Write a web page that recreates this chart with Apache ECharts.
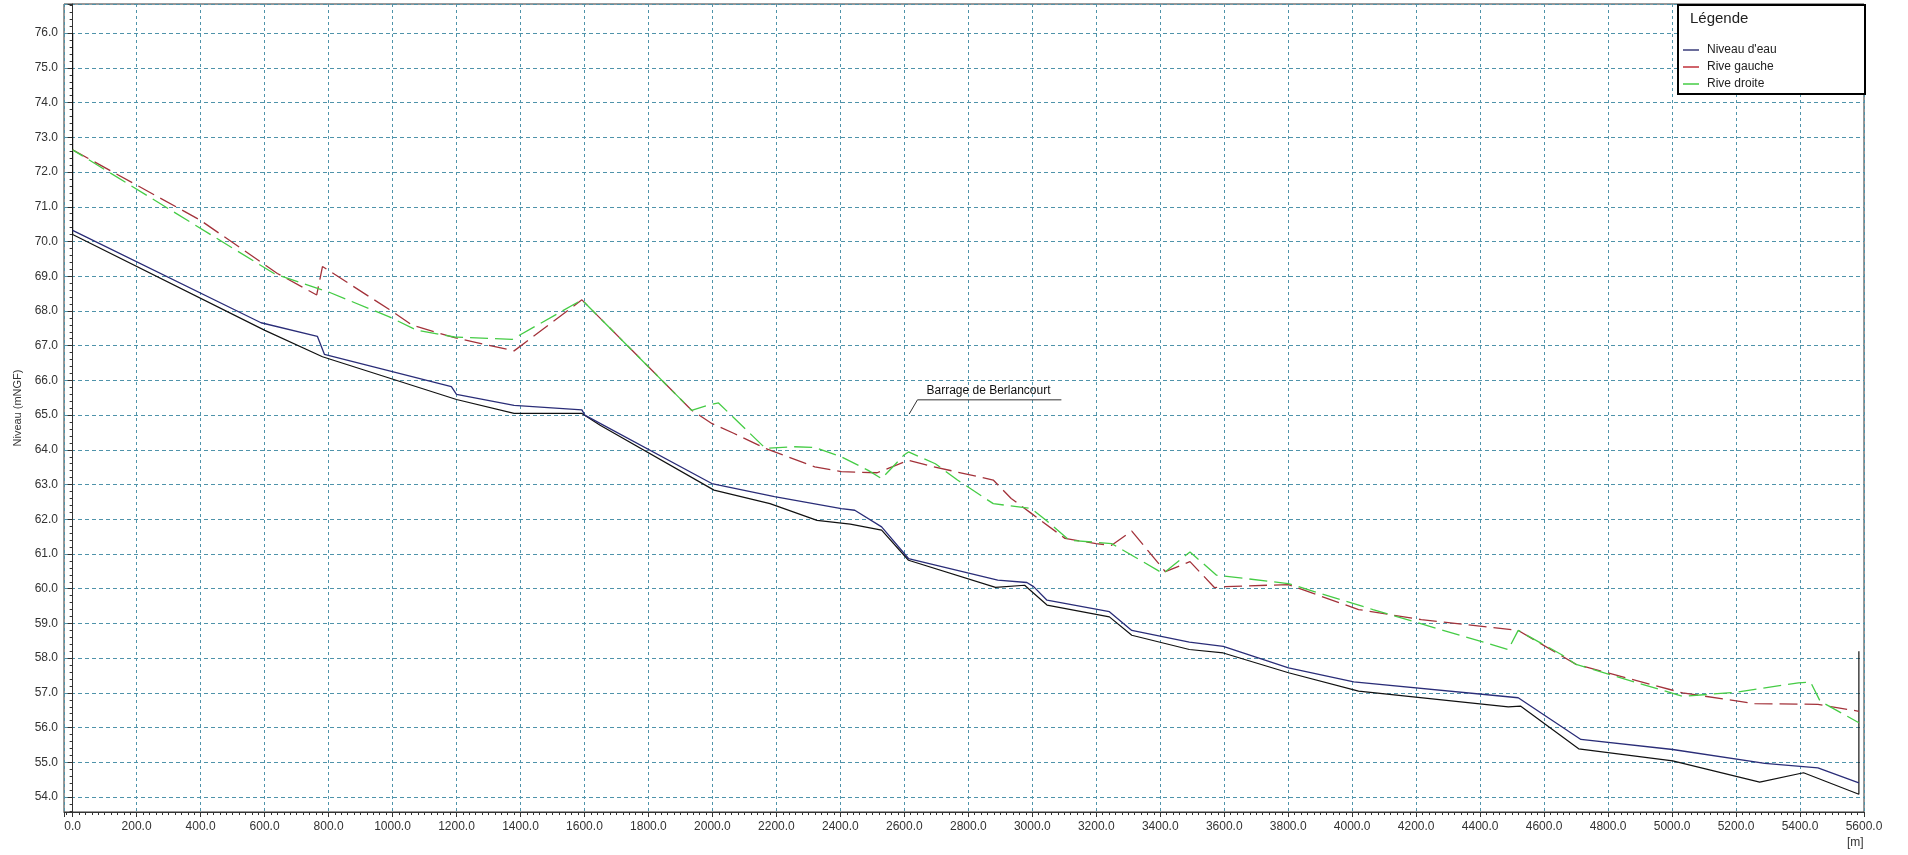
<!DOCTYPE html>
<html>
<head>
<meta charset="utf-8">
<title>Profil en long</title>
<script src="https://cdn.jsdelivr.net/npm/echarts@6/dist/echarts.min.js"></script>
<style>
html, body { margin: 0; padding: 0; background: #fff; }
#chart { width: 1908px; height: 855px; }
</style>
</head>
<body>
<div id="chart"></div>
<script>
// profil en long : abscisse [m], niveau [mNGF]
const niveauEau = [
  [0, 70.32], [589, 67.66], [765, 67.27], [787, 66.75], [1184, 65.82], [1200, 65.6],
  [1380, 65.28], [1592, 65.15], [1601, 65.0], [1998, 63.03], [2194, 62.65], [2403, 62.31],
  [2445, 62.26], [2529, 61.78], [2613, 60.87], [2892, 60.25], [2983, 60.18], [3004, 60.06],
  [3046, 59.67], [3241, 59.34], [3311, 58.8], [3491, 58.46], [3597, 58.34], [3801, 57.72],
  [4005, 57.32], [4519, 56.86], [4715, 55.66], [5002, 55.37], [5290, 54.97], [5456, 54.84],
  [5584, 54.41]
];
const ligneNoire = [
  [0, 76.0], [0, 70.2], [601, 67.44], [781, 66.68], [1200, 65.45], [1380, 65.05], [1592, 65.05],
  [1649, 64.71], [2005, 62.84], [2180, 62.45], [2327, 61.97], [2431, 61.86], [2529, 61.69],
  [2613, 60.82], [2885, 60.04], [2976, 60.1], [3046, 59.53], [3241, 59.19], [3311, 58.66],
  [3491, 58.25], [3597, 58.15], [3801, 57.58], [4020, 57.05], [4488, 56.6], [4526, 56.62],
  [4708, 55.39], [5002, 55.04], [5274, 54.43], [5411, 54.7], [5584, 54.08], [5584, 58.2]
];
const riveGauche = [
  [0, 72.64], [398, 70.62], [640, 69.08], [763, 68.46], [781, 69.28], [990, 68.04],
  [1062, 67.59], [1194, 67.23], [1380, 66.85], [1592, 68.32], [1935, 65.14], [1998, 64.76],
  [2068, 64.47], [2166, 64.04], [2320, 63.51], [2403, 63.37], [2515, 63.34], [2613, 63.7],
  [2683, 63.53], [2878, 63.13], [2934, 62.6], [2997, 62.17], [3102, 61.45], [3199, 61.3],
  [3248, 61.25], [3311, 61.66], [3416, 60.49], [3493, 60.78], [3570, 60.03], [3604, 60.06],
  [3800, 60.12], [4020, 59.4], [4216, 59.11], [4519, 58.8], [4700, 57.82], [5033, 57.0],
  [5259, 56.69], [5456, 56.67], [5584, 56.47]
];
const riveDroite = [
  [0, 72.64], [631, 69.07], [799, 68.55], [990, 67.83], [1074, 67.45], [1194, 67.25],
  [1374, 67.18], [1592, 68.32], [1935, 65.14], [1991, 65.3], [2019, 65.35], [2166, 64.04],
  [2250, 64.09], [2320, 64.07], [2403, 63.8], [2487, 63.41], [2529, 63.17], [2599, 63.85],
  [2613, 63.94], [2697, 63.6], [2766, 63.13], [2878, 62.45], [2997, 62.31], [3046, 61.95],
  [3115, 61.4], [3248, 61.3], [3409, 60.44], [3493, 61.06], [3576, 60.39], [3800, 60.15],
  [4065, 59.4], [4488, 58.25], [4519, 58.8], [4655, 58.1], [4700, 57.82], [5033, 56.9],
  [5199, 57.02], [5395, 57.29], [5433, 57.31], [5463, 56.76], [5584, 56.14]
];
// repere du barrage (pointe, debut du trait, fin du trait)
const barrage = [[2615, 65.03], [2641, 65.44], [3091, 65.44]];
const barrageLabel = 'Barrage de Berlancourt';
const legendNames = ["Niveau d'eau", 'Rive gauche', 'Rive droite'];

const chart = echarts.init(document.getElementById('chart'));
const fontFam = 'Liberation Sans, Arial, sans-serif';
const axisCol = '#333';
const gridCol = '#4f93aa';

chart.setOption({
  animation: false,
  backgroundColor: '#fff',
  textStyle: { fontFamily: fontFam },
  grid: { left: 64, right: 44, top: 4, bottom: 43, show: true, borderColor: '#333', borderWidth: 1 },
  title: {
    text: 'Légende', left: 1690, top: 11, padding: 0, z: 10,
    textStyle: { fontSize: 15, fontWeight: 'normal', color: '#222', fontFamily: fontFam }
  },
  legend: {
    data: legendNames, orient: 'vertical', left: 1683, top: 44, padding: 0,
    itemWidth: 16, itemHeight: 1.5, itemGap: 5, icon: 'rect', z: 10,
    textStyle: { fontSize: 12, color: '#222', padding: [0, 0, 0, 3] }
  },
  graphic: [{
    type: 'rect', left: 1677, top: 4, z: 5,
    shape: { width: 187, height: 89 },
    style: { fill: '#fff', stroke: '#000', lineWidth: 2 }
  }],
  xAxis: {
    type: 'value', min: -27, max: 5600, splitNumber: 28,
    name: '[m]', nameLocation: 'end', nameGap: -17,
    nameTextStyle: { fontSize: 12, color: axisCol, verticalAlign: 'top', padding: [25, 0, 0, 0] },
    axisLine: { lineStyle: { color: axisCol } },
    axisTick: { length: 5, lineStyle: { color: axisCol } },
    minorTick: { show: true, splitNumber: 10, length: 3, lineStyle: { color: axisCol } },
    axisLabel: { showMinLabel: false, showMaxLabel: true, margin: 9, fontSize: 12, color: axisCol,
      formatter: v => v.toFixed(1) },
    splitLine: { show: true, lineStyle: { color: gridCol, type: [3, 3], width: 1 } }
  },
  yAxis: {
    type: 'value', min: 53.57, max: 76.84, splitNumber: 23,
    name: 'Niveau (mNGF)', nameLocation: 'middle', nameGap: 40,
    nameTextStyle: { fontSize: 11, color: axisCol },
    axisLine: { show: true, lineStyle: { color: axisCol } },
    axisTick: { show: true, length: 5, lineStyle: { color: axisCol } },
    minorTick: { show: true, splitNumber: 5, length: 3, lineStyle: { color: axisCol } },
    axisLabel: { showMinLabel: false, showMaxLabel: false, margin: 6, fontSize: 12, color: axisCol,
      formatter: v => v.toFixed(1) },
    splitLine: { show: true, lineStyle: { color: gridCol, type: [4, 3], width: 1 } }
  },
  series: [
    {
      name: 'Ligne', type: 'line', data: ligneNoire, showSymbol: false,
      lineStyle: { color: '#111', width: 1.2 }, itemStyle: { color: '#111' }
    },
    {
      name: legendNames[0], type: 'line', data: niveauEau, showSymbol: false,
      lineStyle: { color: '#2a2d78', width: 1.3 }, itemStyle: { color: '#3a3d7a' }
    },
    {
      name: legendNames[1], type: 'line', data: riveGauche, showSymbol: false,
      lineStyle: { color: '#a3323a', width: 1.3, type: [18, 7] }, itemStyle: { color: '#c0303a' }
    },
    {
      name: legendNames[2], type: 'line', data: riveDroite, showSymbol: false,
      lineStyle: { color: '#45cc45', width: 1.3, type: [18, 7], dashOffset: 6 }, itemStyle: { color: '#45cc45' }
    },
    {
      name: 'Barrage', type: 'line', symbol: 'circle', symbolSize: 0, showSymbol: true,
      lineStyle: { color: '#333', width: 1 }, itemStyle: { color: '#333' },
      data: barrage.map((p, i) => i === 1 ? {
        value: p,
        label: { show: true, formatter: barrageLabel, position: 'top', align: 'left',
          offset: [9, 2], fontSize: 12, color: '#111' }
      } : p)
    }
  ]
});
window.onresize = () => { chart.resize(); };
</script>
</body>
</html>
